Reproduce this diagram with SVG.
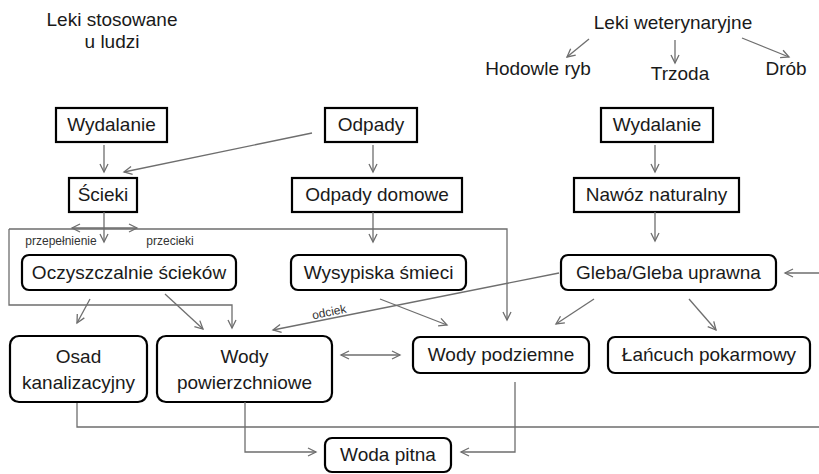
<svg xmlns="http://www.w3.org/2000/svg" width="819" height="474" viewBox="0 0 819 474">
<style>
.t{font-family:"Liberation Sans",Arial,sans-serif;font-size:19px;fill:#1a1a1a;text-anchor:middle}
.s{font-family:"Liberation Sans",Arial,sans-serif;font-size:12px;fill:#333;text-anchor:middle}
.b{fill:#fff;stroke:#000;stroke-width:2.2}
.c{fill:none;stroke:#6e6e6e;stroke-width:1.3}
</style>
<defs>
<marker id="a" markerUnits="userSpaceOnUse" markerWidth="12" markerHeight="12" refX="10" refY="6" orient="auto-start-reverse">
<path d="M2,2 L10,6 L2,10" fill="none" stroke="#6e6e6e" stroke-width="1.3"/>
</marker>
</defs>
<rect width="819" height="474" fill="#fff"/>
<g id="leki-ludzi"><text class="t" x="112" y="26">Leki stosowane</text><text class="t" x="112" y="48">u ludzi</text></g>
<g id="leki-wet"><text class="t" x="673" y="29">Leki weterynaryjne</text></g>
<g id="hodowle"><text class="t" x="538" y="75">Hodowle ryb</text></g>
<g id="trzoda"><text class="t" x="680" y="80">Trzoda</text></g>
<g id="drob"><text class="t" x="786" y="75">Drób</text></g>
<g id="wydalanie1"><rect class="b" x="56" y="108" width="111" height="34"/><text class="t" x="111.5" y="131">Wydalanie</text></g>
<g id="odpady"><rect class="b" x="325" y="108" width="92" height="34"/><text class="t" x="371" y="131">Odpady</text></g>
<g id="wydalanie2"><rect class="b" x="601" y="108" width="112" height="34"/><text class="t" x="657" y="131">Wydalanie</text></g>
<g id="scieki"><rect class="b" x="69" y="178" width="68" height="34"/><text class="t" x="103" y="201">Ścieki</text></g>
<g id="odpady-domowe"><rect class="b" x="292" y="178" width="170" height="34"/><text class="t" x="377" y="201">Odpady domowe</text></g>
<g id="nawoz"><rect class="b" x="574" y="178" width="165" height="34"/><text class="t" x="656.5" y="201">Nawóz naturalny</text></g>
<g id="oczyszczalnie"><rect class="b" x="22" y="255" width="214" height="35" rx="7"/><text class="t" x="129" y="279">Oczyszczalnie ścieków</text></g>
<g id="wysypiska"><rect class="b" x="291" y="255" width="175" height="35" rx="7"/><text class="t" x="378.5" y="279">Wysypiska śmieci</text></g>
<g id="gleba"><rect class="b" x="561" y="255" width="215" height="35" rx="7"/><text class="t" x="668.5" y="279">Gleba/Gleba uprawna</text></g>
<g id="osad"><rect class="b" x="10" y="336" width="137" height="66" rx="9"/><text class="t" x="78.5" y="363">Osad</text><text class="t" x="78.5" y="389">kanalizacyjny</text></g>
<g id="wody-pow"><rect class="b" x="157" y="336" width="175" height="66" rx="9"/><text class="t" x="244.5" y="363">Wody</text><text class="t" x="244.5" y="389">powierzchniowe</text></g>
<g id="wody-pod"><rect class="b" x="413" y="337" width="176" height="36" rx="7"/><text class="t" x="501" y="361">Wody podziemne</text></g>
<g id="lancuch"><rect class="b" x="608" y="337" width="202" height="36" rx="7"/><text class="t" x="709" y="361">Łańcuch pokarmowy</text></g>
<g id="woda-pitna"><rect class="b" x="325" y="438" width="126" height="34" rx="7"/><text class="t" x="388" y="461">Woda pitna</text></g>
<g id="connectors">
<line class="c" x1="589" y1="39" x2="567" y2="57" marker-end="url(#a)"/>
<line class="c" x1="675" y1="40" x2="675" y2="63" marker-end="url(#a)"/>
<line class="c" x1="742" y1="38" x2="789" y2="57" marker-end="url(#a)"/>
<line class="c" x1="104" y1="145" x2="104" y2="172" marker-end="url(#a)"/>
<line class="c" x1="312" y1="133" x2="124" y2="172" marker-end="url(#a)"/>
<line class="c" x1="373" y1="145" x2="373" y2="172" marker-end="url(#a)"/>
<line class="c" x1="655" y1="145" x2="655" y2="172" marker-end="url(#a)"/>
<line class="c" x1="104" y1="212" x2="104" y2="242" marker-end="url(#a)"/>
<line class="c" x1="72" y1="228" x2="137" y2="228" marker-start="url(#a)" marker-end="url(#a)"/>
<line class="c" x1="373" y1="212" x2="373" y2="242" marker-end="url(#a)"/>
<line class="c" x1="655" y1="212" x2="655" y2="241" marker-end="url(#a)"/>
<path class="c" d="M9,229 L507,229 L507,320" marker-end="url(#a)"/>
<path class="c" d="M9,229 L9,305 L232,305 L232,328" marker-end="url(#a)"/>
<line class="c" x1="90" y1="299" x2="77" y2="323" marker-end="url(#a)"/>
<line class="c" x1="165" y1="294" x2="203" y2="329" marker-end="url(#a)"/>
<line class="c" x1="380" y1="299" x2="447" y2="325" marker-end="url(#a)"/>
<line class="c" x1="559" y1="273" x2="273" y2="330" marker-end="url(#a)"/>
<line class="c" x1="594" y1="299" x2="556" y2="324" marker-end="url(#a)"/>
<line class="c" x1="689" y1="299" x2="716" y2="330" marker-end="url(#a)"/>
<line class="c" x1="819" y1="273" x2="785" y2="273" marker-end="url(#a)"/>
<line class="c" x1="341" y1="355" x2="400" y2="355" marker-start="url(#a)" marker-end="url(#a)"/>
<path class="c" d="M77,403 L77,427 L819,427"/>
<path class="c" d="M245,402 L245,452 L316,452" marker-end="url(#a)"/>
<path class="c" d="M515,382 L515,452 L461,452" marker-end="url(#a)"/>
<text class="s" x="61" y="245">przepełnienie</text>
<text class="s" x="170" y="245">przecieki</text>
<text class="s" transform="rotate(-11.3 330 316)" x="330" y="316">odciek</text>
</g>
</svg>
